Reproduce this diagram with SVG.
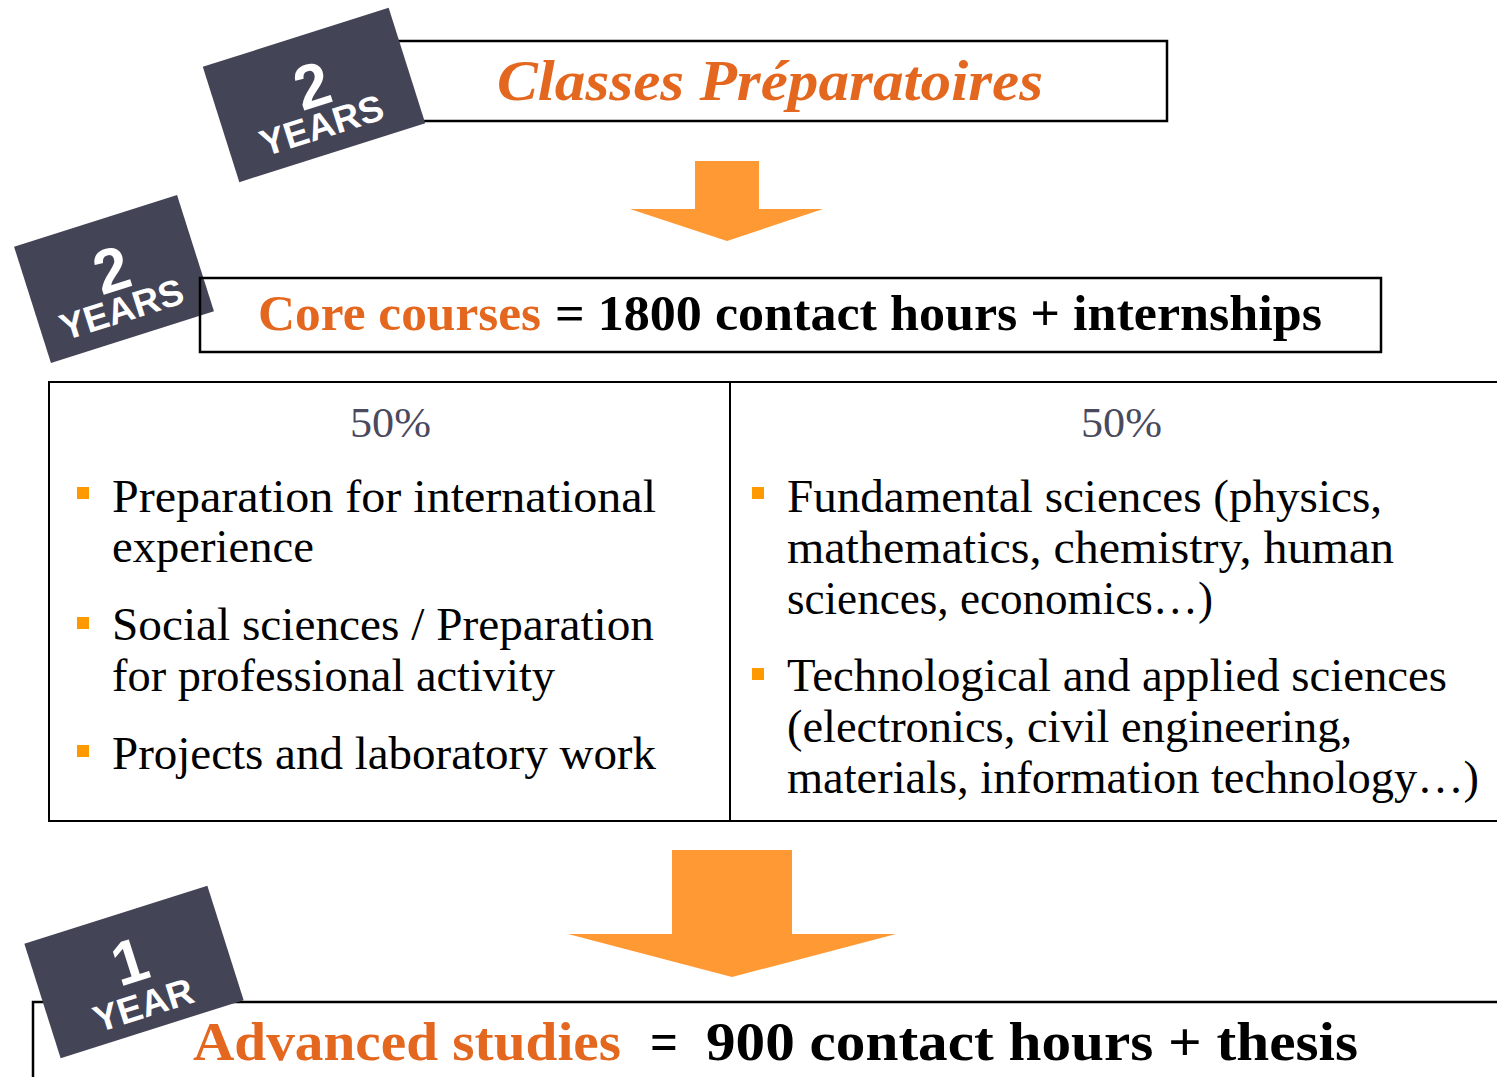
<svg xmlns="http://www.w3.org/2000/svg" width="1497" height="1077" viewBox="0 0 1497 1077">
  <style>
    .box { fill: none; stroke: #000; stroke-width: 2.5; }
    .badge { fill: #444457; }
    .bnum { font-family: "Liberation Sans", Arial, sans-serif; font-weight: bold; fill: #fff; font-size: 62px; text-anchor: middle; }
    .bword { font-family: "Liberation Sans", Arial, sans-serif; font-weight: bold; fill: #fff; font-size: 37px; text-anchor: middle; }
    .arrow { fill: #FF9933; }
    .body { font-family: "Liberation Serif", "Times New Roman", serif; font-size: 46px; fill: #000; }
    .pct { font-family: "Liberation Serif", "Times New Roman", serif; font-size: 42px; fill: #4A4A5E; }
    .bullet { fill: #FF9900; }
    .head { font-family: "Liberation Serif", "Times New Roman", serif; font-weight: bold; }
    .orange { fill: #E4671F; }
    .black { fill: #000; }
  </style>

  <g id="node-prepa">
    <rect class="box" x="395" y="41" width="772" height="80"/>
    <text class="head orange" x="497" y="100" font-size="58" font-style="italic" textLength="546" lengthAdjust="spacingAndGlyphs">Classes Préparatoires</text>
  </g>
  <g id="badge-prepa" transform="translate(314,95) rotate(-17.6)">
    <rect class="badge" x="-97.5" y="-60.5" width="195" height="121"/>
    <text class="bnum" x="1" y="12">2</text>
    <text class="bword" x="-2" y="44">YEARS</text>
  </g>

  <g id="badge-core" transform="translate(114,279) rotate(-17.6)">
    <rect class="badge" x="-85.5" y="-61" width="171" height="122"/>
    <text class="bnum" x="0.5" y="12">2</text>
    <text class="bword" x="-2" y="44">YEARS</text>
  </g>
  <g id="node-core">
    <rect class="box" x="200" y="278" width="1181" height="74"/>
    <text class="head orange" x="258" y="330" font-size="50" textLength="283" lengthAdjust="spacingAndGlyphs">Core courses</text>
    <text class="head black" x="555" y="330" font-size="50" textLength="767" lengthAdjust="spacingAndGlyphs">= 1800 contact hours + internships</text>
  </g>

  <g id="node-table">
    <path d="M1497 382 H49 V821 H1497" fill="none" stroke="#000" stroke-width="2"/>
    <line x1="730" y1="382" x2="730" y2="821" stroke="#000" stroke-width="2"/>
  </g>

  <g id="node-left">
    <text class="pct" x="350" y="437" textLength="81" lengthAdjust="spacingAndGlyphs">50%</text>
    <rect class="bullet" x="77" y="487" width="12" height="12"/>
    <text class="body" x="112" y="512" textLength="544" lengthAdjust="spacingAndGlyphs">Preparation for international</text>
    <text class="body" x="112" y="562" textLength="202" lengthAdjust="spacingAndGlyphs">experience</text>
    <rect class="bullet" x="77" y="617" width="12" height="12"/>
    <text class="body" x="112" y="640" textLength="542" lengthAdjust="spacingAndGlyphs">Social sciences / Preparation</text>
    <text class="body" x="112" y="691" textLength="443" lengthAdjust="spacingAndGlyphs">for professional activity</text>
    <rect class="bullet" x="77" y="745" width="12" height="12"/>
    <text class="body" x="112" y="769" textLength="544" lengthAdjust="spacingAndGlyphs">Projects and laboratory work</text>
  </g>

  <g id="node-right">
    <text class="pct" x="1081" y="437" textLength="81" lengthAdjust="spacingAndGlyphs">50%</text>
    <rect class="bullet" x="752" y="487" width="12" height="12"/>
    <text class="body" x="787" y="512" textLength="595" lengthAdjust="spacingAndGlyphs">Fundamental sciences (physics,</text>
    <text class="body" x="787" y="563" textLength="607" lengthAdjust="spacingAndGlyphs">mathematics, chemistry, human</text>
    <text class="body" x="787" y="614" textLength="426" lengthAdjust="spacingAndGlyphs">sciences, economics…)</text>
    <rect class="bullet" x="752" y="668" width="12" height="12"/>
    <text class="body" x="787" y="691" textLength="660" lengthAdjust="spacingAndGlyphs">Technological and applied sciences</text>
    <text class="body" x="787" y="742" textLength="565" lengthAdjust="spacingAndGlyphs">(electronics, civil engineering,</text>
    <text class="body" x="787" y="793" textLength="692" lengthAdjust="spacingAndGlyphs">materials, information technology…)</text>
  </g>

  <g id="node-advanced">
    <path d="M1497 1002 H33 V1077" fill="none" stroke="#000" stroke-width="2.5"/>
    <text class="head orange" x="193" y="1060" font-size="54" textLength="428" lengthAdjust="spacingAndGlyphs">Advanced studies</text>
    <text class="head black" x="650" y="1060" font-size="54" textLength="28" lengthAdjust="spacingAndGlyphs">=</text>
    <text class="head black" x="706" y="1060" font-size="54" textLength="652" lengthAdjust="spacingAndGlyphs">900 contact hours + thesis</text>
  </g>
  <g id="badge-advanced" transform="translate(134,972) rotate(-17.6)">
    <rect class="badge" x="-96" y="-60" width="192" height="120"/>
    <text class="bnum" x="-1" y="10">1</text>
    <text class="bword" x="-1" y="47">YEAR</text>
  </g>

  <g id="connectors">
    <polygon class="arrow" points="695,161 759,161 759,209 823,209 727,241 630,209 695,209"/>
    <polygon class="arrow" points="672,850 792,850 792,934 896,934 732,977 568,934 672,934"/>
  </g>
</svg>
